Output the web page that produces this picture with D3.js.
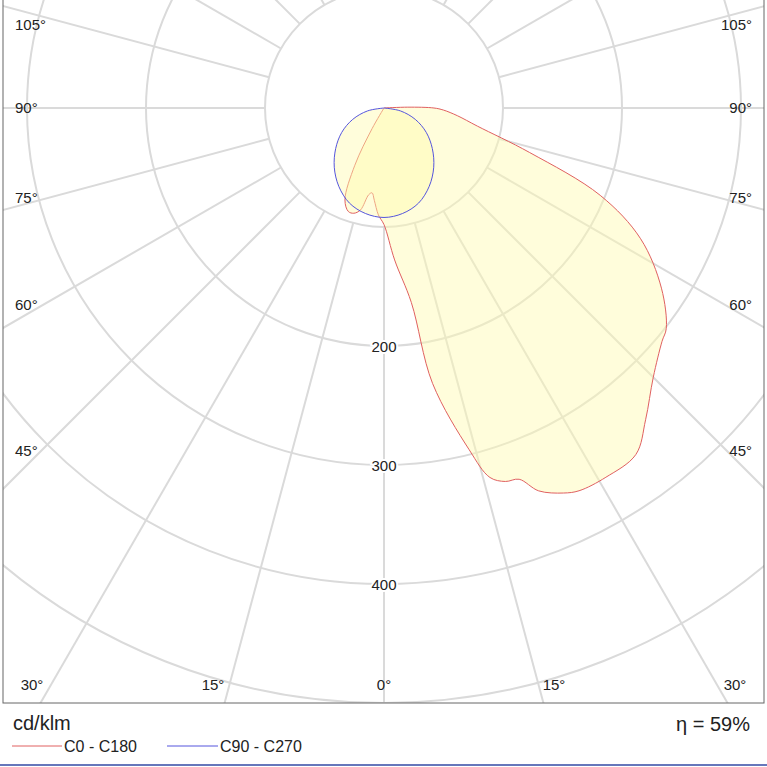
<!DOCTYPE html>
<html><head><meta charset="utf-8">
<script src="https://cdn.jsdelivr.net/npm/d3@7"></script>
<style>body{margin:0;background:#fff}text{font-family:"Liberation Sans",Arial,sans-serif}</style>
</head><body><svg id="vis-svg"></svg>
<script>
((() => {
  var width = 767, height = 767;
  var cx = 384, cy = 108;

  var rings = [100, 200, 300, 400, 500];
  var ringLabels = [200, 300, 400];
  var c0Angles = [0, 4, 8, 10, 14, 16, 18, 20, 22, 25, 27, 31, 36, 40, 45, 50, 52, 57, 63, 68, 73, 79, 84, 88, 90, 92, 95];
  var c0Values = [98, 128, 165, 235, 296, 323, 330, 332, 347, 357, 361, 362, 360, 342, 320, 305, 301, 278, 242, 196, 128, 80, 62, 50, 42, 20, 0];
  var c180Angles = [0, 3, 6, 8, 10, 13, 16, 19, 23, 27, 30, 33];
  var c180Values = [98, 90, 78, 72, 74, 88, 92, 92, 84, 54, 20, 0];
  var c90Angles = [0, 10, 20, 30, 40, 50, 60, 70, 80, 90];
  var c90Values = [92, 90, 85, 76, 65, 53, 41, 28, 14, 0];
  var angleLabels = [
    {t: "105°", x: 35, y: 30, a: "start"}, {t: "90°", x: 35, y: 113, a: "start"},
    {t: "75°", x: 35, y: 203, a: "start"}, {t: "60°", x: 35, y: 310, a: "start"},
    {t: "45°", x: 35, y: 456, a: "start"}, {t: "30°", x: 32, y: 690, a: "mid"},
    {t: "15°", x: 213, y: 690, a: "mid"}, {t: "0°", x: 384, y: 690, a: "mid"}
  ];

  var svg = d3.select("#vis-svg").attr("width", width).attr("height", height);
  var r = d3.scaleLinear().domain([0, 500]).range([0, 595]);
  var rad = d => d * Math.PI / 180;

  svg.append("clipPath").attr("id", "clip").append("rect")
    .attr("x", 3).attr("y", 0).attr("width", 761).attr("height", 703);

  var g = svg.append("g").attr("clip-path", "url(#clip)")
    .append("g").attr("transform", "translate(" + cx + "," + cy + ")");

  g.selectAll("circle").data(rings).enter().append("circle")
    .attr("r", d => r(d)).attr("fill", "none").attr("stroke", "#dadada").attr("stroke-width", 2);

  var spokes = d3.range(0, 360, 15);
  g.selectAll("line.spoke").data(spokes).enter().append("line")
    .attr("x1", d => Math.sin(rad(d)) * r(100)).attr("y1", d => Math.cos(rad(d)) * r(100))
    .attr("x2", d => Math.sin(rad(d)) * 900).attr("y2", d => Math.cos(rad(d)) * 900)
    .attr("stroke", "#dadada").attr("stroke-width", 2);

  var line = d3.lineRadial().angle(d => d[0]).radius(d => r(d[1])).curve(d3.curveCatmullRom);

  var redPts = [];
  for (var i = c180Angles.length - 1; i >= 0; i--) redPts.push([Math.PI + rad(c180Angles[i]), c180Values[i]]);
  for (var j = 1; j < c0Angles.length; j++) redPts.push([Math.PI - rad(c0Angles[j]), c0Values[j]]);

  var bluePts = [];
  for (var k = c90Angles.length - 1; k >= 0; k--) bluePts.push([Math.PI + rad(c90Angles[k]), c90Values[k]]);
  for (var m = 1; m < c90Angles.length; m++) bluePts.push([Math.PI - rad(c90Angles[m]), c90Values[m]]);

  g.append("path").attr("d", line(redPts) + "Z").attr("fill", "#fffbb0").attr("fill-opacity", 0.45)
    .attr("stroke", "#e06060").attr("stroke-width", 1);
  g.append("path").attr("d", line(bluePts) + "Z").attr("fill", "#fffbb0").attr("fill-opacity", 0.45)
    .attr("stroke", "#5555dd").attr("stroke-width", 1);

  g.selectAll("text.rl").data(ringLabels).enter().append("text")
    .attr("x", 0).attr("y", d => r(d) + 6).attr("text-anchor", "middle")
    .attr("font-size", 15).attr("fill", "#222")
    .attr("stroke", "#fff").attr("stroke-width", 4).attr("paint-order", "stroke")
    .text(d => d);

  var lab = svg.append("g");
  angleLabels.forEach(function (d) {
    var lx = d.a === "mid" ? d.x : d.x - 20;
    var rx = d.a === "mid" ? width - d.x : width - d.x + 20;
    lab.append("text").attr("x", lx).attr("y", d.y).attr("text-anchor", d.a === "mid" ? "middle" : "start")
      .attr("font-size", 15).attr("fill", "#222").text(d.t);
    if (d.t !== "0°")
      lab.append("text").attr("x", rx).attr("y", d.y).attr("text-anchor", d.a === "mid" ? "middle" : "end")
        .attr("font-size", 15).attr("fill", "#222").text(d.t);
  });

  svg.append("rect").attr("x", 3).attr("y", -2).attr("width", 761).attr("height", 705)
    .attr("fill", "none").attr("stroke", "#666").attr("stroke-width", 1);

  svg.append("text").attr("x", 13).attr("y", 730).attr("font-size", 20).attr("fill", "#222").text("cd/klm");
  svg.append("text").attr("x", 750).attr("y", 731).attr("text-anchor", "end").attr("font-size", 20).attr("fill", "#222").text("η = 59%");
  svg.append("line").attr("x1", 12).attr("x2", 62).attr("y1", 746).attr("y2", 746).attr("stroke", "#e06060");
  svg.append("text").attr("x", 64).attr("y", 752).attr("font-size", 16).attr("fill", "#222").text("C0 - C180");
  svg.append("line").attr("x1", 167).attr("x2", 218).attr("y1", 746).attr("y2", 746).attr("stroke", "#5555dd");
  svg.append("text").attr("x", 220).attr("y", 752).attr("font-size", 16).attr("fill", "#222").text("C90 - C270");
  svg.append("line").attr("x1", 0).attr("x2", width).attr("y1", 765).attr("y2", 765).attr("stroke", "#6677bb").attr("stroke-width", 2);
})());
</script></body></html>
